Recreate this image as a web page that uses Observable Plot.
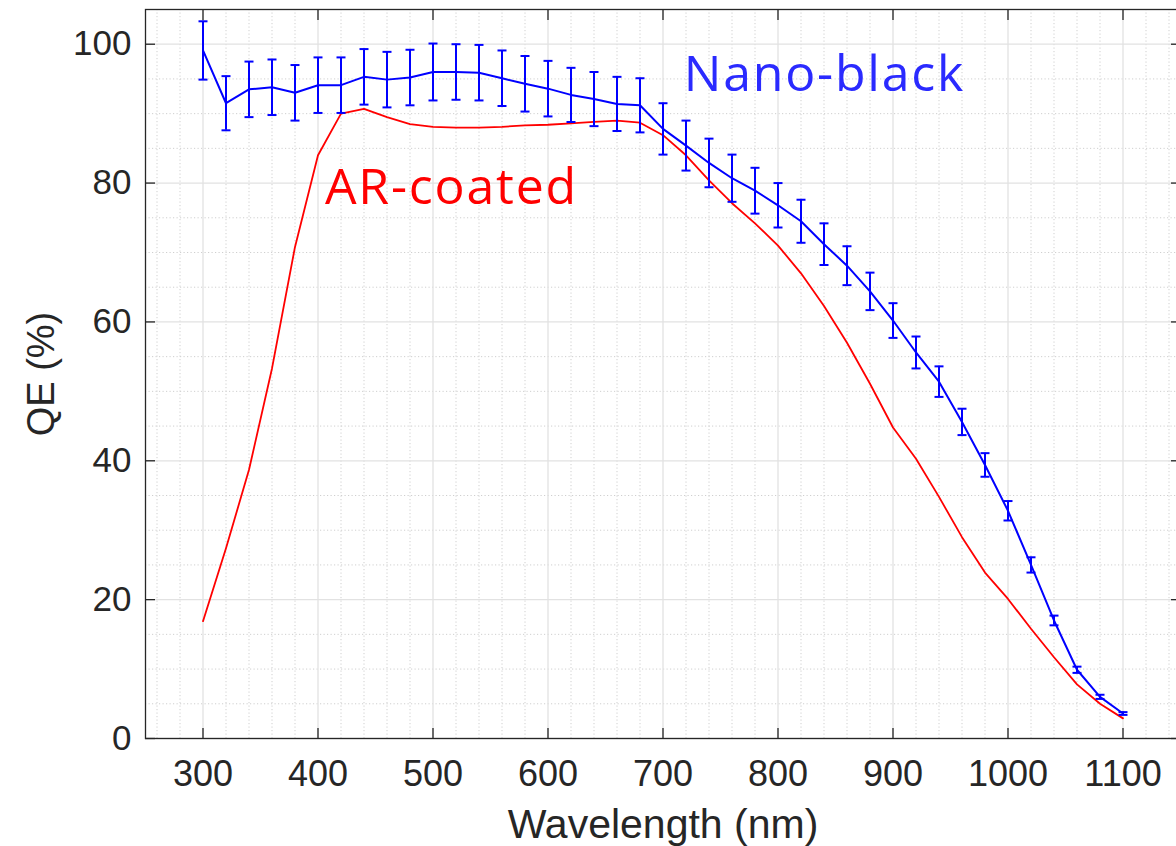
<!DOCTYPE html>
<html>
<head>
<meta charset="utf-8">
<script src="https://cdn.jsdelivr.net/npm/d3@7"></script>
<script src="https://cdn.jsdelivr.net/npm/@observablehq/plot@0.6"></script>
<style>
  html, body { margin: 0; padding: 0; background: #fff; }
  #chart { width: 1176px; height: 846px; overflow: hidden; }
</style>
</head>
<body>
<div id="chart"></div>
<script>
// ---- data ----
const wavelengths = [300,320,340,360,380,400,420,440,460,480,500,520,540,560,580,600,620,640,660,680,700,720,740,760,780,800,820,840,860,880,900,920,940,960,980,1000,1020,1040,1060,1080,1100];
const nanoBlackQE = [99.1,91.5,93.5,93.8,93.0,94.1,94.1,95.3,94.9,95.2,96.0,96.0,95.9,95.1,94.3,93.6,92.7,92.1,91.4,91.2,87.8,85.4,82.9,80.7,78.9,76.8,74.5,71.2,68.1,64.4,60.2,55.6,51.4,45.6,39.4,32.8,25.0,17.0,9.9,6.0,3.6];
const nanoBlackErr = [4.2,3.9,4.0,4.0,4.0,4.0,4.0,4.0,4.0,4.0,4.1,4.0,4.0,4.0,4.0,4.0,3.9,3.9,3.9,3.9,3.7,3.6,3.5,3.4,3.3,3.2,3.1,3.0,2.8,2.7,2.5,2.3,2.2,1.9,1.7,1.4,1.1,0.7,0.45,0.3,0.2];
const arCoatedQE = [16.9,27.4,38.7,53.3,70.8,84.0,90.0,90.7,89.5,88.5,88.1,88.0,88.0,88.1,88.3,88.4,88.6,88.8,89.0,88.7,86.9,84.0,80.4,77.1,74.2,71.0,67.0,62.3,57.0,51.1,44.8,40.3,34.8,29.0,23.9,20.1,15.8,11.7,7.8,5.0,2.9];

const xTicks = [300,400,500,600,700,800,900,1000,1100];
const yTicks = [0,20,40,60,80,100];
const labelNames = ["Nano-black","AR-coated"];
const labelX = [718,406];
const labelY = [93.2,77.0];
const labelColors = ["#2a2aff","#ff0000"];

// ---- build tables ----
const nano = wavelengths.map((w,i) => ({w, qe: nanoBlackQE[i], lo: nanoBlackQE[i]-nanoBlackErr[i], hi: nanoBlackQE[i]+nanoBlackErr[i]}));
const ar = wavelengths.map((w,i) => ({w, qe: arCoatedQE[i]}));
const labels = labelNames.map((t,i) => ({t, x: labelX[i], y: labelY[i], c: labelColors[i]}));
const xMinor = d3.range(260, 1150, 20).filter(v => v % 100 !== 0);
const yMinor = d3.range(5, 105, 5).filter(v => v % 20 !== 0);

const BLUE = "#0000ff", RED = "#ff0000", INK = "#262626";
const FONT = "'Liberation Sans', Arial, Helvetica, sans-serif";
const capSymbol = {draw(ctx) { ctx.moveTo(-4.5, 0); ctx.lineTo(4.5, 0); }};

const chart = Plot.plot({
  width: 1176,
  height: 846,
  marginLeft: 145,
  marginRight: -4,
  marginTop: 9,
  marginBottom: 108,
  style: {fontFamily: FONT, background: "#fff", color: INK},
  x: {domain: [250, 1150]},
  y: {domain: [0, 105]},
  marks: [
    Plot.gridX(xMinor, {stroke: "#cfcfcf", strokeOpacity: 1, strokeWidth: 1, strokeDasharray: "1.2,2.3"}),
    Plot.gridY(yMinor, {stroke: "#cfcfcf", strokeOpacity: 1, strokeWidth: 1, strokeDasharray: "1.2,2.3"}),
    Plot.gridX(xTicks, {stroke: "#e2e2e2", strokeOpacity: 1, strokeWidth: 1.3}),
    Plot.gridY(yTicks, {stroke: "#e2e2e2", strokeOpacity: 1, strokeWidth: 1.3}),
    Plot.line(ar, {x: "w", y: "qe", stroke: RED, strokeWidth: 1.8}),
    Plot.line(nano, {x: "w", y: "qe", stroke: BLUE, strokeWidth: 2}),
    Plot.ruleX(nano, {x: "w", y1: "lo", y2: "hi", stroke: BLUE, strokeWidth: 2}),
    Plot.dot(nano, {x: "w", y: "hi", symbol: capSymbol, stroke: BLUE, strokeWidth: 2, r: 4}),
    Plot.dot(nano, {x: "w", y: "lo", symbol: capSymbol, stroke: BLUE, strokeWidth: 2, r: 4}),
    Plot.text(labels, {x: "x", y: "y", text: "t", fill: "c", fontSize: 50, fontFamily: "'Open Sans', sans-serif", textAnchor: "start", lineAnchor: "bottom"}),
    Plot.frame({stroke: INK, strokeWidth: 1.3}),
    // inward ticks
    Plot.axisX({anchor: "bottom", ticks: xTicks, tickSize: 10, dy: -10, tickFormat: () => "", label: null, stroke: INK, strokeWidth: 1.3}),
    Plot.axisX({anchor: "top", ticks: xTicks, tickSize: 10, dy: 10, tickFormat: () => "", label: null, stroke: INK, strokeWidth: 1.3}),
    Plot.axisY({anchor: "left", ticks: yTicks, tickSize: 10, dx: 10, tickFormat: () => "", label: null, stroke: INK, strokeWidth: 1.3}),
    Plot.axisY({anchor: "right", ticks: yTicks, tickSize: 10, dx: -10, tickFormat: () => "", label: null, stroke: INK, strokeWidth: 1.3}),
    // tick labels
    Plot.axisX({anchor: "bottom", ticks: xTicks, tickSize: 0, tickPadding: 22, fontSize: 36, tickFormat: d3.format("d"), label: null, fill: INK}),
    Plot.axisY({anchor: "left", ticks: yTicks, tickSize: 0, tickPadding: 14, fontSize: 35, tickFormat: d3.format("d"), label: null, fill: INK}),
    // axis titles
    Plot.text(["Wavelength (nm)"], {frameAnchor: "bottom", textAnchor: "middle", dy: 99, fontSize: 41, lineAnchor: "bottom", fill: INK}),
    Plot.text(["QE (%)"], {frameAnchor: "left", textAnchor: "middle", dx: -92, rotate: -90, fontSize: 38, lineAnchor: "bottom", fill: INK})
  ]
});
d3.select(chart).selectAll("text").filter(function() {
  return this.textContent === "Nano-black" || this.textContent === "AR-coated";
}).attr("letter-spacing", "1.8px");
document.getElementById("chart").appendChild(chart);
</script>
</body>
</html>
